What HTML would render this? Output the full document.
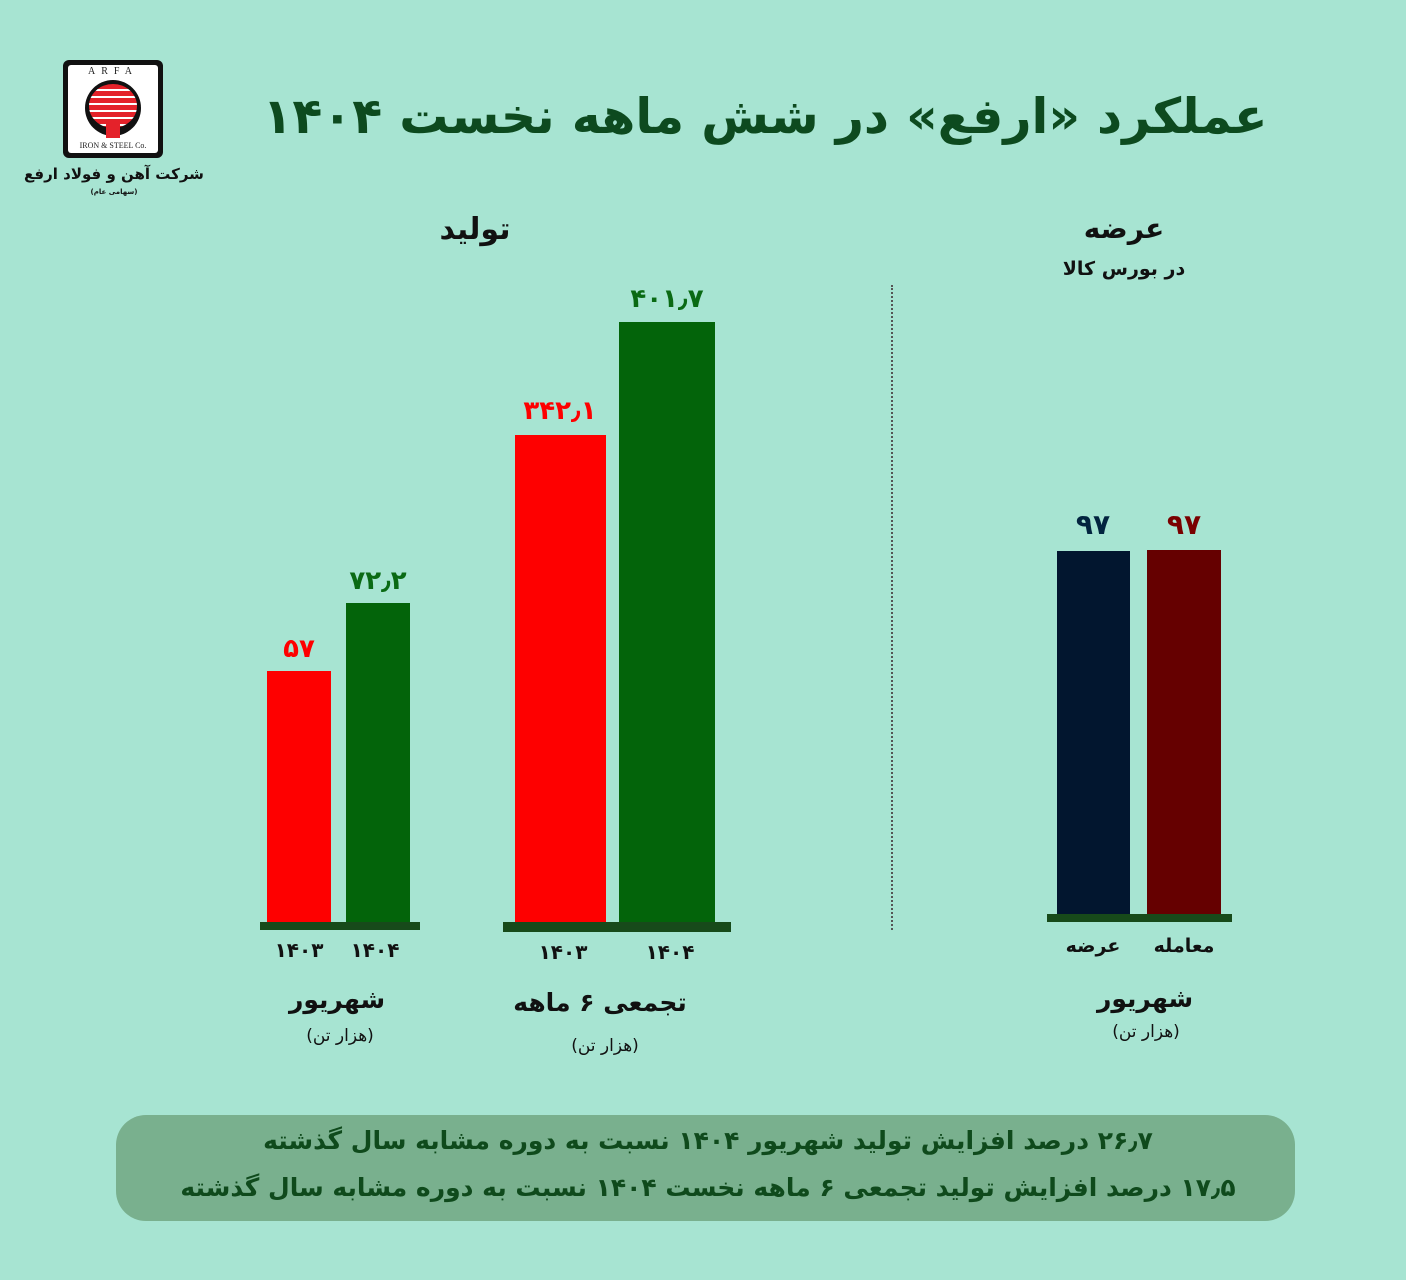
<!DOCTYPE html>
<html><head><meta charset="utf-8"><style>
body{margin:0;width:1406px;height:1280px;background:#a7e4d2;position:relative;overflow:hidden;font-family:"DejaVu Sans","Liberation Sans",sans-serif;font-weight:bold;color:#0e4a1c}
.a{position:absolute}
.t{position:absolute;white-space:nowrap;transform:translateX(-50%);direction:rtl;text-align:center}
.l{direction:ltr}
.bar{position:absolute}
</style></head><body>
<div class="a" style="left:63px;top:60px;width:100px;height:98px;background:#111;border-radius:6px"></div>
<div class="a" style="left:68px;top:65px;width:90px;height:88px;background:#fff;border-radius:3px"></div>
<div class="t l" style="left:113px;top:66px;font-family:'Liberation Serif',serif;font-size:10px;font-weight:normal;color:#222;letter-spacing:6px">ARFA</div>
<div class="a" style="left:85px;top:80px;width:56px;height:56px;border-radius:50%;background:#111"></div>
<div class="a" style="left:89px;top:84px;width:48px;height:44px;border-radius:50%;background:repeating-linear-gradient(#e4222a 0 5px,#fff 5px 7px)"></div>
<div class="a" style="left:106px;top:124px;width:14px;height:14px;background:#e4222a"></div>
<div class="t l" style="left:113px;top:141px;font-family:'Liberation Serif',serif;font-size:8px;font-weight:normal;color:#222">IRON &amp; STEEL Co.</div>
<div class="t" style="left:114px;top:165px;font-size:15px;color:#111">شرکت آهن و فولاد ارفع</div>
<div class="t" style="left:114px;top:188px;font-size:7px;color:#111">(سهامی عام)</div>

<div class="t" style="left:765px;top:88px;font-size:49px;color:#0d4a1f">عملکرد «ارفع» در شش ماهه نخست ۱۴۰۴</div>

<div class="t" style="left:475px;top:212px;font-size:30px;color:#111">تولید</div>
<div class="t" style="left:1124px;top:212px;font-size:28px;color:#111">عرضه</div>
<div class="t" style="left:1124px;top:258px;font-size:19px;color:#111">در بورس کالا</div>

<div class="a" style="left:891px;top:285px;height:645px;border-left:2px dotted #555"></div>

<div class="bar" style="left:267px;top:671px;width:64px;height:251px;background:#fe0000"></div>
<div class="bar" style="left:346px;top:603px;width:64px;height:319px;background:#03640a"></div>
<div class="bar" style="left:260px;top:922px;width:160px;height:8px;background:#174a1a"></div>
<div class="t" style="left:299px;top:634px;font-size:26px;color:#fe0000">۵۷</div>
<div class="t" style="left:378px;top:566px;font-size:26px;color:#0a6a14">۷۲٫۲</div>

<div class="bar" style="left:515px;top:435px;width:91px;height:487px;background:#fe0000"></div>
<div class="bar" style="left:619px;top:322px;width:96px;height:600px;background:#03640a"></div>
<div class="bar" style="left:503px;top:922px;width:228px;height:10px;background:#174a1a"></div>
<div class="t" style="left:560px;top:396px;font-size:26px;color:#fe0000">۳۴۲٫۱</div>
<div class="t" style="left:667px;top:284px;font-size:26px;color:#0a6a14">۴۰۱٫۷</div>

<div class="bar" style="left:1057px;top:551px;width:73px;height:363px;background:#02162f"></div>
<div class="bar" style="left:1147px;top:550px;width:74px;height:364px;background:#650000"></div>
<div class="bar" style="left:1047px;top:914px;width:185px;height:8px;background:#174a1a"></div>
<div class="t" style="left:1093px;top:508px;font-size:28px;color:#02243f">۹۷</div>
<div class="t" style="left:1184px;top:508px;font-size:28px;color:#7a0000">۹۷</div>

<div class="t" style="left:299px;top:938px;font-size:20px;color:#111">۱۴۰۳</div>
<div class="t" style="left:375px;top:938px;font-size:20px;color:#111">۱۴۰۴</div>
<div class="t" style="left:563px;top:940px;font-size:20px;color:#111">۱۴۰۳</div>
<div class="t" style="left:670px;top:940px;font-size:20px;color:#111">۱۴۰۴</div>
<div class="t" style="left:1093px;top:935px;font-size:19px;color:#111">عرضه</div>
<div class="t" style="left:1184px;top:935px;font-size:19px;color:#111">معامله</div>

<div class="t" style="left:337px;top:985px;font-size:25px;color:#111">شهریور</div>
<div class="t" style="left:340px;top:1026px;font-size:17px;font-weight:normal;color:#111">(هزار تن)</div>
<div class="t" style="left:600px;top:988px;font-size:25px;color:#111">تجمعی ۶ ماهه</div>
<div class="t" style="left:605px;top:1036px;font-size:17px;font-weight:normal;color:#111">(هزار تن)</div>
<div class="t" style="left:1145px;top:984px;font-size:25px;color:#111">شهریور</div>
<div class="t" style="left:1146px;top:1022px;font-size:17px;font-weight:normal;color:#111">(هزار تن)</div>

<div class="a" style="left:116px;top:1115px;width:1179px;height:106px;background:#79b08e;border-radius:30px"></div>
<div class="t" style="left:708px;top:1126px;font-size:25px;color:#0f4a1c">۲۶٫۷ درصد افزایش تولید شهریور ۱۴۰۴ نسبت به دوره مشابه سال گذشته</div>
<div class="t" style="left:708px;top:1173px;font-size:25px;color:#0f4a1c">۱۷٫۵ درصد افزایش تولید تجمعی ۶ ماهه نخست ۱۴۰۴ نسبت به دوره مشابه سال گذشته</div>
</body></html>
